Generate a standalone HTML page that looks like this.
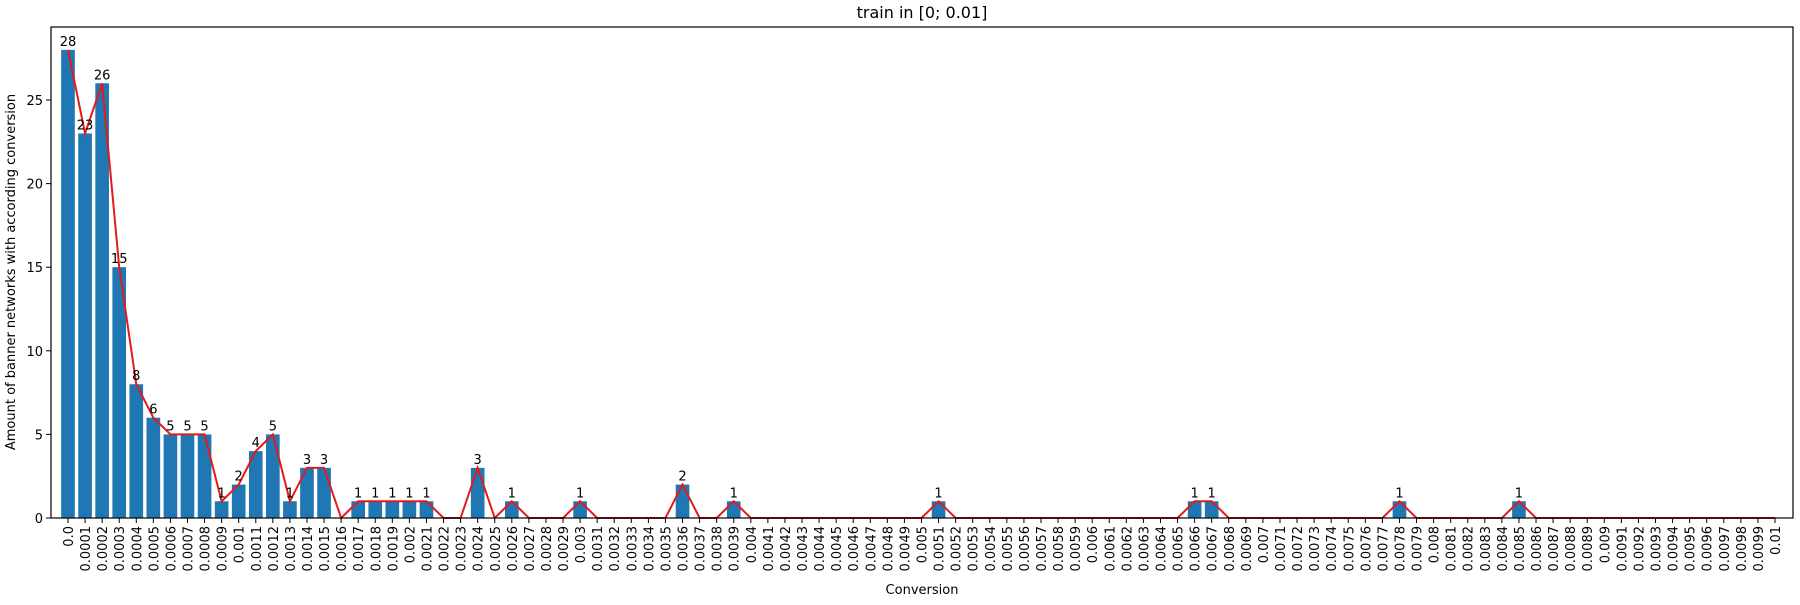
<!DOCTYPE html>
<html><head><meta charset="utf-8"><style>
body{margin:0;background:#fff;font-family:"Liberation Sans","DejaVu Sans",sans-serif;}
</style></head><body>
<svg id="chart" width="1800" height="600" xmlns="http://www.w3.org/2000/svg" font-family="DejaVu Sans, Liberation Sans, sans-serif">
<text x="922" y="18" text-anchor="middle" font-size="16">train in [0; 0.01]</text>
<text x="922" y="594" text-anchor="middle" font-size="13">Conversion</text>
<text transform="translate(15,272) rotate(-90)" text-anchor="middle" font-size="13">Amount of banner networks with according conversion</text>
<g id="plot"></g>
</svg>
<script>
const counts = [28,23,26,15,8,6,5,5,5,1,2,4,5,1,3,3,0,1,1,1,1,1,0,0,3,0,1,0,0,0,1,0,0,0,0,0,2,0,0,1,
0,0,0,0,0,0,0,0,0,0,0,1,0,0,0,0,0,0,0,0,0,0,0,0,0,0,1,1,0,0,0,0,0,0,0,0,0,0,1,0,0,0,0,0,0,1,0,0,0,0,0,0,0,0,0,0,0,0,0,0,0];
const categories = counts.map((_, i) => i === 0 ? "0.0" : (i/10000).toFixed(4).replace(/0+$/,''));
const yTicks = [0,5,10,15,20,25];

const NS="http://www.w3.org/2000/svg";
const g=document.getElementById('plot');
const L=51,R=1793,T=27,B=518;
const x0=68,step=17.07,unit=16.72;
const xs=i=>x0+i*step;
const ys=v=>B-v*unit;
function mk(tag,attrs){const e=document.createElementNS(NS,tag);for(const k in attrs)e.setAttribute(k,attrs[k]);g.appendChild(e);return e;}
const bw=step*0.8;
counts.forEach((v,i)=>{
  const r=mk('rect',{x:xs(i)-bw/2,y:ys(v),width:bw,height:B-ys(v),fill:'#1f77b4'});
  
  
});
const pl=mk('polyline',{points:counts.map((v,i)=>xs(i)+','+ys(v)).join(' '),fill:'none',stroke:'#e31a1c','stroke-width':2});


counts.forEach((v,i)=>{
  if(v>0){const t=mk('text',{x:xs(i),y:ys(v)-4,'text-anchor':'middle','font-size':13});t.textContent=v;
  
  }
});
const fr=mk('rect',{x:L,y:T,width:R-L,height:B-T,fill:'none',stroke:'#000','stroke-width':1.2});


categories.forEach((c,i)=>{
  mk('line',{x1:xs(i),x2:xs(i),y1:B,y2:B+5,stroke:'#000'});
  const t=mk('text',{transform:`translate(${xs(i)+5},${B+8}) rotate(-90)`,'text-anchor':'end','font-size':13});
  t.textContent=c;
  
  
});
yTicks.forEach(v=>{
  mk('line',{x1:L-5,x2:L,y1:ys(v),y2:ys(v),stroke:'#000'});
  const t=mk('text',{x:L-8,y:ys(v)+5,'text-anchor':'end','font-size':13});
  t.textContent=v;
  
  
});
</script>
</body></html>
